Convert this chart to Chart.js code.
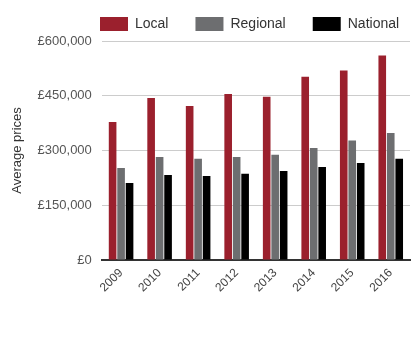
<!DOCTYPE html>
<html>
<head>
<meta charset="utf-8">
<script src="https://cdn.jsdelivr.net/npm/chart.js@4"></script>
<style>
html,body{margin:0;padding:0;background:#fff;}
#wrap{width:420px;height:360px;}
</style>
</head>
<body>
<div id="wrap"><canvas id="c" width="420" height="360"></canvas></div>
<script>
const years = ['2009','2010','2011','2012','2013','2014','2015','2016'];
const localPrices = [378000, 444000, 422000, 455000, 447000, 502000, 519000, 560000];
const regionalPrices = [252000, 282000, 277000, 282000, 288000, 307000, 327000, 348000];
const nationalPrices = [211000, 233000, 230000, 236000, 244000, 255000, 266000, 277000];
const yTicks = [0, 150000, 300000, 450000, 600000];

const fmt = v => '£' + v.toLocaleString('en-GB');
const FONT = 'Liberation Sans, Arial, sans-serif';
const LEG_PAD = 27;

const legendPlacement = {
  id: 'legendPlacement',
  beforeInit(chart) {
    const lg = chart.legend;
    if (!lg) return;
    const origFit = lg.fit;
    lg.fit = function() {
      origFit.call(this);
      this.height = 35;
    };
  },
  beforeDraw(chart) {
    const lg = chart.legend;
    if (!lg) return;
    const w = lg.right - lg.left;
    lg.left = 100 - LEG_PAD;
    lg.right = lg.left + w;
    lg.top = 17 - LEG_PAD;
  }
};

new Chart(document.getElementById('c'), {
  type: 'bar',
  data: {
    labels: years,
    datasets: [
      {label: 'Local', data: localPrices, backgroundColor: '#9b202d'},
      {label: 'Regional', data: regionalPrices, backgroundColor: '#6d6e70'},
      {label: 'National', data: nationalPrices, backgroundColor: '#000000'}
    ]
  },
  plugins: [legendPlacement],
  options: {
    responsive: false,
    animation: false,
    devicePixelRatio: 1,
    layout: {padding: {left: 3, right: 10, top: 6, bottom: 59}},
    datasets: {bar: {categoryPercentage: 0.66, barPercentage: 0.9}},
    plugins: {
      legend: {
        position: 'top',
        align: 'start',
        labels: {
          boxWidth: 28, boxHeight: 14, padding: LEG_PAD,
          color: '#333', font: {family: FONT, size: 14}
        }
      },
      tooltip: {enabled: false}
    },
    scales: {
      x: {
        grid: {display: false, drawTicks: false},
        border: {display: true, color: '#333', width: 2},
        ticks: {
          color: '#444', maxRotation: 45, minRotation: 45, padding: 6,
          font: {family: FONT, size: 12}
        }
      },
      y: {
        min: 0, max: 600000,
        afterBuildTicks: axis => { axis.ticks = yTicks.map(v => ({value: v})); },
        grid: {color: '#cccccc', lineWidth: 1, drawTicks: false},
        border: {display: false},
        title: {display: true, text: 'Average prices', color: '#333', font: {family: FONT, size: 13}, padding: {top: 7, bottom: 2}},
        ticks: {
          color: '#555', padding: 10,
          font: {family: FONT, size: 13},
          callback: v => fmt(v)
        }
      }
    }
  }
});
</script>
</body>
</html>
